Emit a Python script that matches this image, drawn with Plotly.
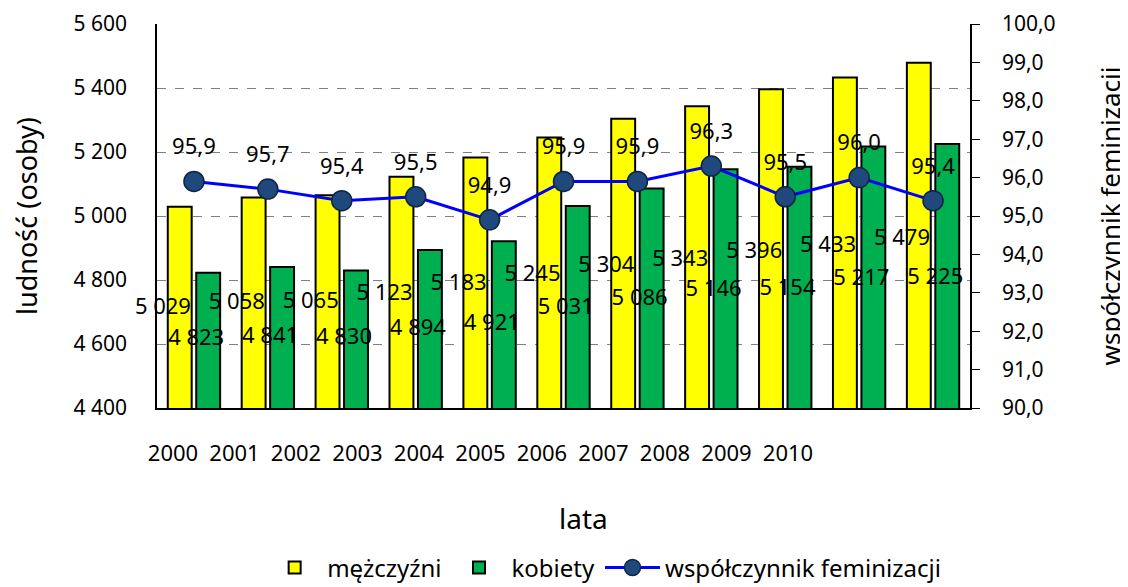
import plotly.graph_objects as go

# dane
lata = [2000, 2001, 2002, 2003, 2004, 2005, 2006, 2007, 2008, 2009, 2010]
mezczyzni = [5029, 5058, 5065, 5123, 5183, 5245, 5304, 5343, 5396, 5433, 5479]
kobiety = [4823, 4841, 4830, 4894, 4921, 5031, 5086, 5146, 5154, 5217, 5225]
wsp_fem = [95.9, 95.7, 95.4, 95.5, 94.9, 95.9, 95.9, 96.3, 95.5, 96.0, 95.4]

FONT = "Noto Sans"
zolty = "#FFFF00"
zielony = "#00B050"


def fmt_int(v):
    return f"{v:,}".replace(",", " ")


def fmt_dec(v):
    return f"{v:.1f}".replace(".", ",")


fig = go.Figure()

fig.add_trace(go.Bar(x=lata, y=mezczyzni, name="mężczyźni",
                     marker=dict(color=zolty, line=dict(color="black", width=2))))
fig.add_trace(go.Bar(x=lata, y=kobiety, name="kobiety",
                     marker=dict(color=zielony, line=dict(color="black", width=2))))
fig.add_trace(go.Scatter(x=lata, y=wsp_fem, name="współczynnik feminizacji", yaxis="y2",
                         mode="lines+markers",
                         line=dict(color="#0000FF", width=3),
                         marker=dict(size=20, color="#1F497D", line=dict(color="#0E2544", width=1.5))))

# etykiety danych (przesunięte jak w oryginale)
fig.add_trace(go.Scatter(x=[x - 0.42 for x in lata], y=mezczyzni, yaxis="y3", mode="text",
                         text=[fmt_int(v) for v in mezczyzni], showlegend=False, hoverinfo="skip",
                         cliponaxis=False, textfont=dict(size=22, color="black", family=FONT)))
fig.add_trace(go.Scatter(x=[x + 0.03 for x in lata], y=kobiety, yaxis="y3", mode="text",
                         text=[fmt_int(v) for v in kobiety], showlegend=False, hoverinfo="skip",
                         cliponaxis=False, textfont=dict(size=22, color="black", family=FONT)))
fig.add_trace(go.Scatter(x=lata, y=wsp_fem, yaxis="y4", mode="text",
                         text=[fmt_dec(v) for v in wsp_fem], showlegend=False, hoverinfo="skip",
                         cliponaxis=False, textfont=dict(size=22, color="black", family=FONT)))

# osobna oś z podpisami lat
fig.add_trace(go.Scatter(x=lata, y=[None] * len(lata), xaxis="x2", yaxis="y5",
                         showlegend=False, hoverinfo="skip"))

fig.update_layout(
    width=1120, height=579,
    margin=dict(l=149, r=158, t=16, b=179, autoexpand=False),
    paper_bgcolor="white", plot_bgcolor="rgba(0,0,0,0)",
    separators=", ",
    font=dict(family=FONT, size=22, color="black"),
    barmode="group", bargap=0.23, bargroupgap=0.16,
    showlegend=True,
    legend=dict(orientation="h", x=0.55, xanchor="center", y=-0.475, yanchor="bottom",
                font=dict(size=24), itemwidth=55, traceorder="normal"),
    xaxis=dict(range=[1999.5, 2010.5], showticklabels=False, ticks="",
               showline=True, linecolor="black", linewidth=1.5, showgrid=False, zeroline=False),
    xaxis2=dict(domain=[0, 0.814], range=[1999.74, 2010.5], anchor="y5", tickmode="array",
                tickvals=lata, ticktext=[str(r) for r in lata], ticks="", showline=False,
                showgrid=False, zeroline=False, ticklabelstandoff=30, tickfont=dict(size=22)),
    yaxis=dict(range=[4400, 5600], dtick=200, tickformat=",d", showline=True, linecolor="black",
               linewidth=1.5, showgrid=True, gridcolor="#808080", griddash="dash", gridwidth=1,
               zeroline=False, ticks="", ticklabelstandoff=24, ticklabeloverflow="allow",
               tickfont=dict(size=21),
               title=dict(text="ludność (osoby)", font=dict(size=27), standoff=46)),
    yaxis2=dict(range=[90, 100], dtick=1, tickformat=".1f", overlaying="y", side="right",
                showline=True, linecolor="black", linewidth=1.5, showgrid=False, zeroline=False,
                ticks="outside", ticklen=8, tickcolor="black", ticklabelstandoff=18,
                ticklabeloverflow="allow", tickfont=dict(size=21),
                title=dict(text="współczynnik feminizacji", font=dict(size=26), standoff=50)),
    yaxis3=dict(range=[4378, 6888], overlaying="y", visible=False),
    yaxis4=dict(range=[89.15, 99.15], overlaying="y", visible=False),
    yaxis5=dict(domain=[0, 1], anchor="x2", visible=False, range=[0, 1]),
)

fig.add_annotation(text="lata", xref="paper", yref="paper", x=0.525, y=-0.286,
                   showarrow=False, font=dict(size=28), xanchor="center", yanchor="middle")

fig.write_html("out.html")
